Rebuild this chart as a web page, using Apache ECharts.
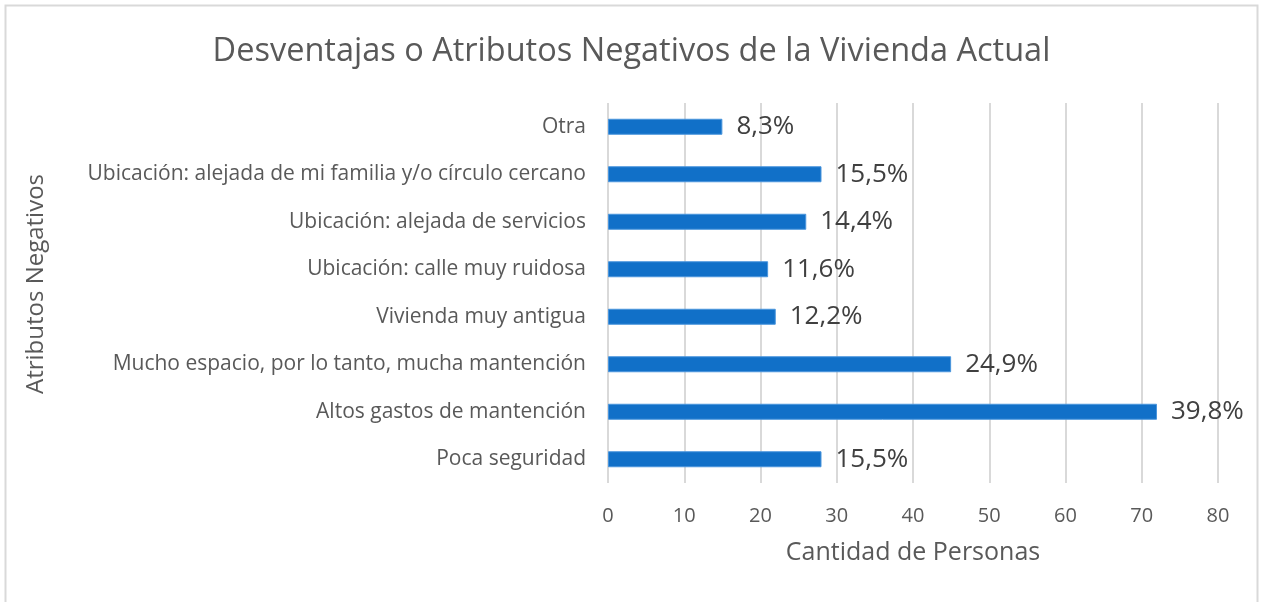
<!DOCTYPE html>
<html><head><meta charset="utf-8">
<script src="https://cdn.jsdelivr.net/npm/echarts@6/dist/echarts.min.js"></script>
<style>html,body{margin:0;padding:0;background:#fff}#c{width:1263px;height:602px}</style>
</head><body><div id="c"></div>
<script>
const categories = ["Poca seguridad","Altos gastos de mantención","Mucho espacio, por lo tanto, mucha mantención","Vivienda muy antigua","Ubicación: calle muy ruidosa","Ubicación: alejada de servicios","Ubicación: alejada de mi familia y/o círculo cercano","Otra"];
const counts = [28,72,45,22,21,26,28,15];
const percentLabels = ["15,5%","39,8%","24,9%","12,2%","11,6%","14,4%","15,5%","8,3%"];
const xTicks = [0,10,20,30,40,50,60,70,80];
const FONT = "Open Sans";
const chart = echarts.init(document.getElementById('c'));
chart.setOption({
  animation:false,
  backgroundColor:'#fff',
  textStyle:{fontFamily:FONT},
  graphic:[{type:'rect',shape:{x:5.5,y:5.5,width:1252,height:600},style:{fill:'none',stroke:'#d9d9d9',lineWidth:2}}],
  title:{text:'Desventajas o Atributos Negativos de la Vivienda Actual',left:'center',top:30,textStyle:{fontFamily:FONT,fontWeight:'normal',fontSize:32.5,color:'#595959'}},
  grid:{left:608,right:45,top:103,height:380,containLabel:false},
  xAxis:{type:'value',min:0,max:80,interval:10,
    name:'Cantidad de Personas',nameLocation:'middle',nameGap:57,
    nameTextStyle:{fontFamily:FONT,fontSize:25,color:'#595959'},
    axisLine:{show:false},axisTick:{show:false},
    axisLabel:{fontFamily:FONT,fontSize:20,color:'#595959',margin:23,formatter:v=>xTicks.includes(v)?String(v):''},
    splitLine:{show:true,lineStyle:{color:'#d9d9d9',width:2}}},
  yAxis:{type:'category',data:categories,
    name:'Atributos Negativos',nameLocation:'middle',nameGap:560,nameRotate:90,
    nameTextStyle:{fontFamily:FONT,fontSize:24,color:'#595959',padding:[0,0,0,18]},
    axisLine:{show:false},axisTick:{show:false},
    axisLabel:{fontFamily:FONT,fontSize:21,color:'#595959',margin:22}},
  series:[{type:'bar',data:counts,barWidth:16,
    itemStyle:{color:'#1170C8',borderColor:'#4a95dc',borderWidth:1},
    label:{show:true,position:'right',distance:14,fontFamily:FONT,fontSize:26,color:'#404040',
      formatter:p=>percentLabels[p.dataIndex]}}]
});
</script></body></html>
